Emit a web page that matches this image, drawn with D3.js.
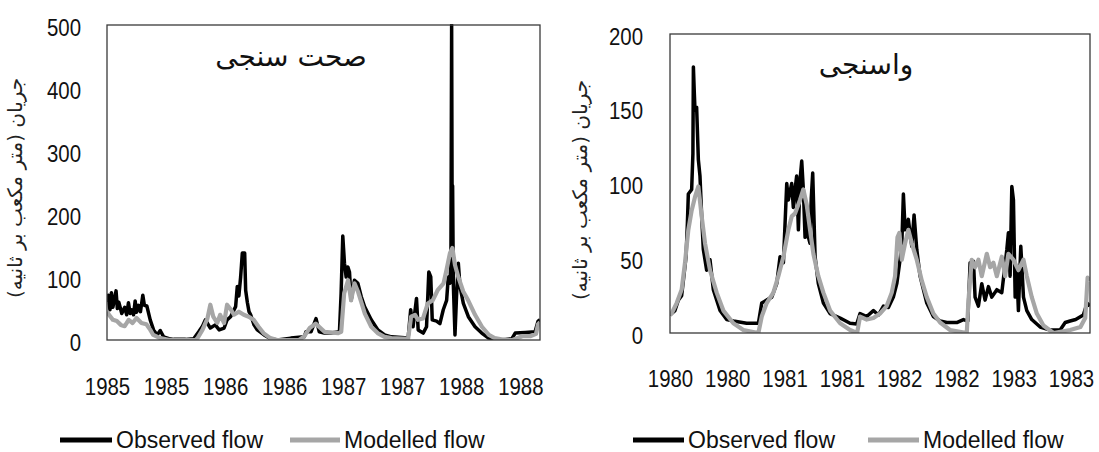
<!DOCTYPE html>
<html><head><meta charset="utf-8">
<script src="https://cdn.jsdelivr.net/npm/d3@7"></script>
<style>body{margin:0;background:#fff;} svg{display:block}</style>
</head><body>
<svg id="c" width="1099" height="452"></svg>
<script>
// ---- data (x in months from start of record, y in m3/s) ----
const xTickMonths = [0,6,12,18,24,30,36,42];
const valXLabels = ["1985","1985","1986","1986","1987","1987","1988","1988"];
const calXLabels = ["1980","1980","1981","1981","1982","1982","1983","1983"];
const valYTicks = [0,100,200,300,400,500];
const calYTicks = [0,50,100,150,200];
const valTitle = "صحت سنجی";
const calTitle = "واسنجی";
const yTitle = "جریان (متر مکعب بر ثانیه)";
const legendLabels = ["Observed flow","Modelled flow"];

const valObs = [[0,60],[0.13,71],[0.3,48],[0.45,75],[0.6,52],[0.92,78],[1.05,50],[1.2,60],[1.5,42],[1.8,52],[2.0,40],[2.18,59],[2.35,42],[2.52,48],[2.7,40],[2.86,62],[3.0,44],[3.2,55],[3.4,45],[3.64,71],[3.8,55],[4.05,54],[4.39,32],[4.73,16],[5.1,8],[5.41,15],[5.75,5],[6.3,2],[6.77,1],[8.0,1],[8.81,2],[9.32,13],[9.7,22],[10.0,32],[10.5,19],[11.0,24],[11.4,16],[11.9,19],[12.2,32],[12.56,37],[13.07,53],[13.24,85],[13.4,70],[13.58,100],[13.75,138],[13.99,138],[14.09,79],[14.26,60],[14.43,45],[14.6,40],[14.94,24],[15.28,16],[15.96,8],[16.64,2],[17.3,0],[18.68,3],[20.04,5],[20.22,13],[20.73,13],[21.24,34],[21.57,13],[22.09,11],[22.77,11],[23.62,13],[23.79,74],[23.96,165],[24.13,122],[24.3,100],[24.47,116],[24.64,108],[24.81,63],[25.15,95],[25.49,90],[25.83,69],[26.17,53],[26.85,32],[27.53,16],[28.21,8],[28.9,5],[30.6,3],[30.86,48],[31.1,21],[31.45,66],[31.62,16],[32.13,11],[32.47,21],[32.7,108],[32.9,100],[33.05,32],[33.49,30],[33.83,26],[34.17,48],[34.51,63],[34.68,100],[34.85,90],[34.95,130],[35.02,500],[35.08,150],[35.12,245],[35.19,90],[35.36,8],[35.53,74],[35.7,122],[35.87,85],[36.21,58],[36.72,37],[37.4,21],[38.08,11],[38.77,3],[39.79,0],[40.5,1],[41.15,2],[41.48,11],[42.5,12],[43.5,13],[43.8,30],[44,32]];
const valMod = [[0,45],[0.3,38],[0.6,32],[1.0,30],[1.4,24],[1.8,22],[2.2,32],[2.6,27],[3.0,35],[3.5,27],[4.0,25],[4.4,16],[4.7,8],[5.4,3],[6.4,0],[9.0,0],[9.2,3],[9.7,16],[10.2,34],[10.5,56],[10.8,37],[11.2,27],[11.5,40],[11.9,27],[12.2,56],[12.6,48],[12.9,40],[13.4,45],[13.9,40],[14.4,37],[14.9,32],[15.4,21],[15.9,11],[16.6,3],[17.3,0],[19.5,0],[20.0,5],[20.6,19],[21.2,26],[22.1,13],[23.5,11],[23.8,13],[24.1,74],[24.5,95],[24.8,63],[25.15,90],[25.5,77],[26.2,42],[26.85,21],[27.5,11],[28.2,5],[28.9,3],[30.6,2],[30.9,37],[31.3,40],[31.6,32],[32.1,34],[32.6,58],[33.1,63],[33.6,79],[34.2,90],[34.5,111],[34.85,138],[35.1,146],[35.36,119],[35.7,100],[36.2,77],[36.7,63],[37.4,40],[38.1,21],[38.8,8],[39.4,3],[40.5,0],[41.2,0],[42.2,6],[43.0,6],[43.6,10],[43.8,25],[44,28]];

const calObs = [[0,12],[0.17,13],[0.52,15],[0.87,22],[1.22,25],[1.4,35],[1.68,51],[1.82,73],[1.92,93],[2.27,96],[2.4,120],[2.45,178],[2.55,160],[2.62,149],[2.79,151],[2.97,116],[3.14,105],[3.32,78],[3.49,56],[3.84,42],[4.19,49],[4.54,29],[5.24,15],[5.94,9],[6.64,8],[8.03,6.5],[9.26,6.5],[9.61,20],[10.13,22],[10.66,24],[11.18,33],[11.53,51],[11.88,47],[12.23,100],[12.4,89],[12.75,100],[12.92,84],[13.1,96],[13.27,105],[13.45,69],[13.62,102],[13.8,115],[13.97,96],[14.15,64],[14.32,82],[14.5,64],[14.67,60],[14.8,90],[14.95,107],[15.2,51],[15.54,33],[16.07,20],[16.77,13],[17.82,10],[18.86,6.5],[19.56,6],[19.91,13],[20.61,11],[21.31,15],[21.83,12],[22.36,18],[22.88,17],[23.4,24],[23.76,33],[24.1,49],[24.28,58],[24.45,93],[24.63,69],[24.97,76],[25.33,58],[25.57,79],[25.85,56],[26.2,38],[26.9,20],[27.59,11],[28.3,8],[29.0,7],[30.04,7],[30.74,9],[31.2,8],[31.44,47],[31.79,48],[31.96,24],[32.31,18],[32.66,33],[33.01,22],[33.36,31],[33.71,24],[34.24,29],[34.76,27],[35.29,56],[35.45,67],[35.63,38],[35.81,98],[35.98,89],[36.16,24],[36.33,42],[36.5,15],[36.75,58],[37.03,24],[37.38,15],[37.9,9],[38.78,4],[39.82,2],[40.87,2],[41.4,7],[41.92,8],[42.5,9],[43.3,12],[43.7,20],[44,18]];
const calMod = [[0,12],[0.17,13],[0.7,20],[1.22,29],[1.57,47],[1.92,69],[2.27,82],[2.62,91],[2.97,98],[3.32,78],[3.67,60],[4.19,42],[4.89,27],[5.59,15],[6.64,6.5],[7.68,2],[9.26,0],[9.61,11],[10.13,20],[10.83,27],[11.35,38],[11.88,51],[12.4,69],[12.75,78],[13.1,80],[13.62,89],[13.97,96],[14.32,86],[14.67,69],[15.02,53],[15.54,38],[16.07,27],[16.77,15],[17.82,6.5],[18.86,2],[19.6,0],[19.91,11],[20.61,9],[21.31,10],[22.0,13],[22.7,18],[23.23,27],[23.58,38],[23.83,64],[24.03,67],[24.28,49],[24.63,60],[24.97,69],[25.33,60],[25.85,49],[26.38,35],[26.9,24],[27.59,13],[28.3,7],[29.34,2],[31.09,0],[31.27,22],[31.61,49],[31.96,44],[32.31,49],[32.66,38],[33.19,53],[33.54,44],[33.88,47],[34.24,38],[34.76,51],[35.11,38],[35.45,53],[35.98,49],[36.5,42],[37.03,49],[37.38,38],[37.9,24],[38.43,13],[39.12,5],[40.17,0],[41.92,2],[43.0,4],[43.5,10],[43.75,37],[44,35]];

// ---- drawing ----
const svg = d3.select("#c");
const NUM_FONT = "'Liberation Sans', Arial, sans-serif";
const AR_FONT = "'DejaVu Sans', sans-serif";
const SX = 0.85;

const panels = [
  {x0:107, x1:540, y0:25, y1:340, ymax:500, yticks:valYTicks, xlabels:valXLabels, obs:valObs, mod:valMod,
   ypad:26, xBase:395, title:valTitle, tx:291, ty:66, ytx:15, yty:188,
   leg:[{x1:60,x2:112,tx:116},{x1:290,x2:340,tx:344}]},
  {x0:670, x1:1090, y0:34, y1:333, ymax:200, yticks:calYTicks, xlabels:calXLabels, obs:calObs, mod:calMod,
   ypad:27, xBase:387, title:calTitle, tx:866, ty:74, ytx:580, yty:190,
   leg:[{x1:633,x2:684,tx:688},{x1:868,x2:919,tx:923}]}
];
const legY = 440;
const colors = ["#000000","#a6a6a6"];

panels.forEach((p, pi) => {
  const g = svg.append("g");
  const x = d3.scaleLinear().domain([0,44]).range([p.x0, p.x1]);
  const y = d3.scaleLinear().domain([0,p.ymax]).range([p.y1, p.y0]);

  const clipId = "clip" + pi;
  g.append("clipPath").attr("id", clipId).append("rect")
    .attr("x", p.x0).attr("y", p.y0 - 1).attr("width", p.x1 - p.x0).attr("height", p.y1 - p.y0 + 1);

  const line = d3.line().x(d => x(d[0])).y(d => y(d[1]));
  const lines = g.append("g").attr("clip-path", `url(#${clipId})`);
  lines.append("path").datum(p.obs).attr("d", line).attr("fill","none")
    .attr("stroke", colors[0]).attr("stroke-width", 3.5).attr("stroke-linejoin","round");
  lines.append("path").datum(p.mod).attr("d", line).attr("fill","none")
    .attr("stroke", colors[1]).attr("stroke-width", 4.2).attr("stroke-linejoin","round");

  g.append("rect").attr("x", p.x0).attr("y", p.y0).attr("width", p.x1 - p.x0).attr("height", p.y1 - p.y0)
    .attr("fill","none").attr("stroke","#3a3a3a").attr("stroke-width",1.3);

  // y axis
  const ya = g.append("g").attr("transform", `translate(${p.x0},0)`)
    .call(d3.axisLeft(y).tickValues(p.yticks).tickSize(0).tickPadding(p.ypad / SX));
  ya.select(".domain").remove();
  ya.selectAll("text").attr("font-size", 24).attr("font-family", NUM_FONT).attr("fill", "#111")
    .attr("dy", "0.42em").attr("transform", `scale(${SX},1)`);

  // x axis
  const xa = g.append("g").attr("transform", `translate(0,${p.y1})`)
    .call(d3.axisBottom(x).tickValues(xTickMonths).tickSize(0).tickPadding(p.xBase - p.y1 - 17)
      .tickFormat((d, i) => p.xlabels[i]));
  xa.select(".domain").remove();
  xa.selectAll("text").attr("font-size", 24).attr("font-family", NUM_FONT).attr("fill", "#111")
    .attr("dy", "0.71em").attr("transform", `scale(${SX},1)`);

  // title
  g.append("text").attr("x", p.tx).attr("y", p.ty).attr("text-anchor","middle")
    .attr("font-family", AR_FONT).attr("font-size", 28).attr("fill","#111").text(p.title);

  // y title
  g.append("text").attr("transform", `translate(${p.ytx},${p.yty}) rotate(-90)`)
    .attr("text-anchor","middle").attr("dy","0.35em")
    .attr("font-family", AR_FONT).attr("font-size", 20).attr("fill","#222").text(yTitle);

  // legend
  p.leg.forEach((l, i) => {
    g.append("line").attr("x1", l.x1).attr("x2", l.x2).attr("y1", legY).attr("y2", legY)
      .attr("stroke", colors[i]).attr("stroke-width", 5);
    g.append("text").attr("x", l.tx).attr("y", legY + 8)
      .attr("font-size", 23).attr("font-family", NUM_FONT).attr("fill","#111")
      .text(legendLabels[i]);
  });
});
</script>
</body></html>
